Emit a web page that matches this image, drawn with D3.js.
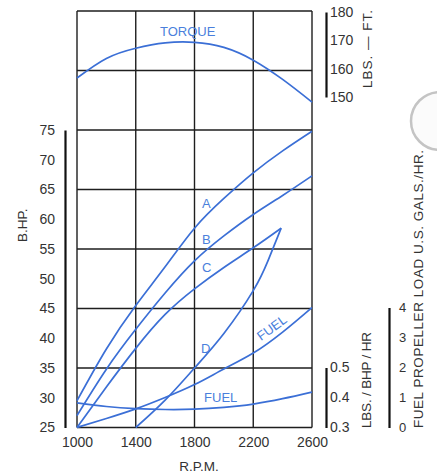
<!DOCTYPE html>
<html>
<head>
<meta charset="utf-8">
<script src="https://cdnjs.cloudflare.com/ajax/libs/d3/7.8.5/d3.min.js"></script>
<style>
  body { margin: 0; background: #fff; }
  text { font-family: "Liberation Sans", Arial, sans-serif; }
</style>
</head>
<body>
<div id="chart"></div>
<script>
// rpm steps used by most curves
let rpm = [1000, 1200, 1400, 1600, 1800, 2000, 2200, 2400, 2600]

// brake horse power curves
let hpA = [29.5, 38.2, 45.5, 52, 58.5, 63.5, 67.8, 71.5, 74.8]
let hpB = [27, 34.8, 41.5, 47.6, 53, 57.2, 60.8, 64, 67.3]
let rpmC = [1000, 1200, 1400, 1600, 1800, 2000, 2200, 2390]
let hpC = [25, 31.8, 38.3, 44, 48.3, 51.9, 55.2, 58.5]
let rpmD = [1400, 1600, 1800, 2000, 2200, 2300, 2390]
let hpD = [25, 29.6, 35, 40.8, 48, 53, 58.5]

// torque lbs-ft
let torque = [156.7, 163.6, 167.2, 169.1, 169.3, 167.5, 163, 156.2, 148.2]

// fuel curves
let fuelGal = [0, 0.3, 0.62, 1.0, 1.43, 1.95, 2.48, 3.18, 4.0]
let fuelLbs = [0.382, 0.37, 0.363, 0.36, 0.361, 0.367, 0.378, 0.396, 0.418]

// tick labels
let rpmTicks = [1000, 1400, 1800, 2200, 2600]
let hpTicks = [25, 30, 35, 40, 45, 50, 55, 60, 65, 70, 75]
let torqueTicks = [150, 160, 170, 180]
let lbsTicks = [0.3, 0.4, 0.5]
let galTicks = [0, 1, 2, 3, 4]
let gridHp = [25, 35, 45, 55, 65, 75, 85, 95]

let blue = '#3b6fd6'
let labelBlue = '#4a7fdc'

let svg = d3.select('#chart').append('svg')
  .attr('width', 437).attr('height', 476)

let x = d3.scaleLinear().domain([1000, 2600]).range([77, 312])
let yHp = d3.scaleLinear().domain([25, 95]).range([427.5, 11])
let yTq = d3.scaleLinear().domain([150, 180]).range([97, 12])
let yLbs = d3.scaleLinear().domain([0.3, 0.5]).range([427.5, 367.5])
let yGal = d3.scaleLinear().domain([0, 4]).range([427.5, 307.5])

// scan artifact on the right side
svg.append('circle')
  .attr('cx', 440).attr('cy', 121).attr('r', 29)
  .attr('fill', '#fbfbfb').attr('stroke', '#c4c4c4').attr('stroke-width', 2.5)

// grid
let grid = svg.append('g').attr('stroke', '#1e1e1e').attr('stroke-width', 1.4)
grid.selectAll('.v').data(rpmTicks).enter().append('line')
  .attr('x1', d => x(d)).attr('x2', d => x(d))
  .attr('y1', yHp(95)).attr('y2', yHp(25))
grid.selectAll('.h').data(gridHp).enter().append('line')
  .attr('x1', x(1000)).attr('x2', x(2600))
  .attr('y1', d => yHp(d)).attr('y2', d => yHp(d))

// axes, bars with no tick marks
function styleAxis(g, size) {
  g.select('.domain').attr('stroke', '#111').attr('stroke-width', 2.2)
  g.selectAll('text').attr('fill', '#333').attr('font-size', size)
}

let hpAxis = d3.axisLeft(yHp.copy().domain([25, 75]).range([yHp(25), yHp(75)]))
  .tickValues(hpTicks).tickSize(0).tickPadding(10).tickSizeOuter(0)
svg.append('g').attr('transform', 'translate(65,0)').call(hpAxis).call(g => styleAxis(g, '14px'))

let tqAxis = d3.axisRight(yTq).tickValues(torqueTicks).tickSize(0).tickPadding(4).tickSizeOuter(0)
svg.append('g').attr('transform', 'translate(326,0)').call(tqAxis).call(g => styleAxis(g, '14px'))

let lbsAxis = d3.axisRight(yLbs).tickValues(lbsTicks).tickSize(0).tickPadding(4).tickSizeOuter(0)
  .tickFormat(d3.format('.1f'))
svg.append('g').attr('transform', 'translate(326,0)').call(lbsAxis).call(g => styleAxis(g, '14px'))

let galAxis = d3.axisRight(yGal).tickValues(galTicks).tickSize(0).tickPadding(10).tickSizeOuter(0)
  .tickFormat(d3.format('d'))
svg.append('g').attr('transform', 'translate(389,0)').call(galAxis).call(g => styleAxis(g, '13px'))

let rpmAxis = d3.axisBottom(x).tickValues(rpmTicks).tickSize(0).tickPadding(9.5)
  .tickFormat(d3.format('d'))
svg.append('g').attr('transform', 'translate(0,' + yHp(25) + ')').call(rpmAxis)
  .call(g => { styleAxis(g, '14px'); g.select('.domain').remove() })

// curves
function drawCurve(xs, ys, yScale) {
  let pts = xs.map((r, i) => [r, ys[i]])
  let line = d3.line().x(d => x(d[0])).y(d => yScale(d[1])).curve(d3.curveNatural)
  svg.append('path').datum(pts).attr('d', line)
    .attr('fill', 'none').attr('stroke', blue).attr('stroke-width', 1.7)
}
drawCurve(rpm, torque, yTq)
drawCurve(rpm, hpA, yHp)
drawCurve(rpm, hpB, yHp)
drawCurve(rpmC, hpC, yHp)
drawCurve(rpmD, hpD, yHp)
drawCurve(rpm, fuelGal, yGal)
drawCurve(rpm, fuelLbs, yLbs)

// curve labels
function curveLabel(t, px, py, rot) {
  svg.append('text').text(t)
    .attr('transform', 'translate(' + px + ',' + py + ') rotate(' + (rot || 0) + ')')
    .attr('fill', labelBlue).attr('font-size', '13px')
}
curveLabel('TORQUE', x(1565), yTq(171.5))
curveLabel('A', x(1851), yHp(61.9))
curveLabel('B', x(1851), yHp(55.8))
curveLabel('C', x(1851), yHp(51.1))
curveLabel('D', x(1844), yHp(37.5))
curveLabel('FUEL', x(1865), yLbs(0.385))
curveLabel('FUEL', x(2253), yGal(2.88), -36)

// axis titles
function title(t, px, py, rot, size, len) {
  let el = svg.append('text').text(t)
    .attr('transform', 'translate(' + px + ',' + py + ') rotate(' + rot + ')')
    .attr('fill', '#333').attr('font-size', size)
  if (len) el.attr('textLength', len).attr('lengthAdjust', 'spacing')
  return el
}
title('B.HP.', 27, 242, -90, '13.5px')
title('LBS. \u2014 FT.', 372, 88, -90, '13.5px', 78)
title('LBS. / BHP / HR', 371, 428, -90, '13.5px', 96)
title('FUEL  PROPELLER  LOAD  U.S.  GALS./HR.', 423, 428, -90, '13.5px', 278)
title('R.P.M.', 199, 471, 0, '13.5px').attr('text-anchor', 'middle')
</script>
</body>
</html>
